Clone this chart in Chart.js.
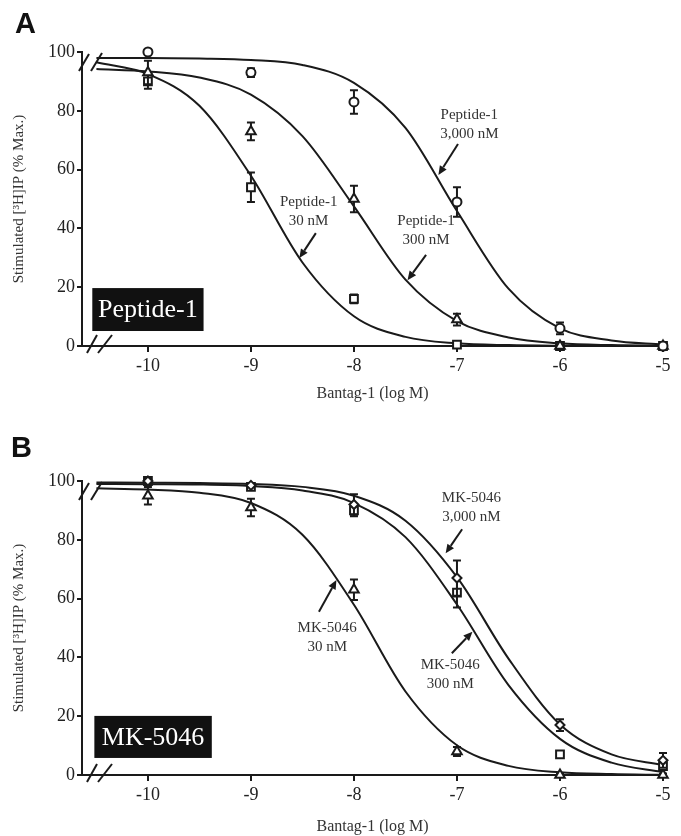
<!DOCTYPE html>
<html><head><meta charset="utf-8">
<script src="https://cdn.jsdelivr.net/npm/chart.js@4.4.1/dist/chart.umd.min.js"></script>
<style>
body{margin:0;background:#fff;width:681px;height:836px;position:relative;overflow:hidden;}
.panel{position:absolute;left:0;width:681px;height:418px;}
.letter{position:absolute;font:bold 29px "Liberation Sans",Arial,sans-serif;line-height:29px;color:#111;}
</style></head><body>
<div class="panel" style="top:0"><canvas id="cA" width="681" height="418"></canvas></div>
<div class="panel" style="top:418px"><canvas id="cB" width="681" height="418"></canvas></div>
<div class="letter" style="left:15px;top:9px">A</div>
<div class="letter" style="left:11px;top:433px">B</div>
<script>
// ---- data ----
const xTicks = [-10, -9, -8, -7, -6, -5];
const doseX = [-10, -9, -8, -7, -6, -5];
const curveX = [-10.5, -10, -9.5, -9, -8.5, -8, -7.5, -7, -6.5, -6, -5.5, -5];

// Panel A (Peptide-1)
const aCircle3000 = [100, 93, 83, 49, 6, 0];
const aCircle3000Err = [0, 1.5, 4, 5, 2, 0.5];
const aTri300 = [93, 73, 50, 9, 0, 0];
const aTri300Err = [4, 3, 4.5, 2, 0.5, 0.5];
const aSq30 = [90, 54, 16, 0.5, 0, 0];
const aSq30Err = [2.5, 5, 1.5, 0.5, 0.5, 0.5];
const aCurve3000 = [98.0, 98.0, 97.8, 97.3, 95.6, 89.5, 74.2, 45.9, 19.5, 6.0, 1.9, 0.5];
const aCurve300 = [94.2, 93.4, 91.3, 85.5, 71.4, 47.5, 22.6, 8.5, 2.9, 0.9, 0.3, 0.1];
const aCurve30 = [96.5, 92.5, 81.7, 57.9, 28.4, 10.1, 3.1, 0.9, 0.3, 0.1, 0.05, 0];

// Panel B (MK-5046)
const bDia3000 = [100, 98.5, 92, 67, 17, 5];
const bDia3000Err = [0, 0.5, 3.5, 6, 2, 2.5];
const bSq300 = [100, 98, 90, 62, 7, 3];
const bSq300Err = [0, 1, 2, 5, 0, 1];
const bTri30 = [95, 91, 63, 8, 0, 0];
const bTri30Err = [3, 3, 3.5, 1.5, 0.5, 0.5];
const bCurve3000 = [99.5, 99.4, 99.3, 99.0, 98.0, 95.0, 86.5, 67.3, 39.6, 17.2, 7.0, 3.4];
const bCurve300 = [99.0, 98.9, 98.8, 98.3, 96.8, 92.5, 80.9, 58.0, 30.6, 12.3, 4.2, 1.0];
const bCurve30 = [97.5, 97.1, 96.0, 92.5, 81.7, 57.9, 28.4, 10.1, 3.1, 0.9, 0.3, 0.05];

const SERIF = '"Liberation Serif", "Times New Roman", serif';
const INK = '#1a1a1a';

const pts = (xs, ys) => xs.map((x, i) => ({x, y: ys[i]}));

function curveDs(ys) {
  return {data: pts(curveX, ys), showLine: true, borderColor: INK, borderWidth: 2,
    pointRadius: 0, cubicInterpolationMode: 'monotone', order: 2, clip: false};
}
function markerDs(ys, errs, style, r) {
  return {data: pts(doseX, ys), errors: errs, showLine: false, pointStyle: style,
    pointRadius: r, pointBorderWidth: 2, pointBorderColor: INK, pointBackgroundColor: '#fff',
    borderColor: INK, backgroundColor: '#fff', order: 0, clip: false};
}

const errorBars = {
  id: 'errorBars',
  beforeDatasetDraw(chart, args) {
    const ds = chart.data.datasets[args.index];
    if (!ds.errors) return;
    const {ctx, scales: {x, y}} = chart;
    ctx.save();
    ctx.strokeStyle = INK; ctx.lineWidth = 2;
    ds.data.forEach((p, i) => {
      const e = ds.errors[i];
      if (!e) return;
      const px = x.getPixelForValue(p.x);
      const y1 = y.getPixelForValue(p.y + e), y2 = y.getPixelForValue(p.y - e);
      ctx.beginPath();
      ctx.moveTo(px, y1); ctx.lineTo(px, y2);
      ctx.moveTo(px - 4, y1); ctx.lineTo(px + 4, y1);
      ctx.moveTo(px - 4, y2); ctx.lineTo(px + 4, y2);
      ctx.stroke();
    });
    ctx.restore();
  }
};

const breaks = {
  id: 'breaks',
  afterDraw(chart) {
    const {ctx, chartArea: {left, top, bottom}} = chart;
    ctx.save();
    ctx.strokeStyle = INK; ctx.lineWidth = 2;
    const segs = [
      [left - 3, top + 19, left + 7, top + 2], [left + 9, top + 19, left + 20, top + 1],
      [left + 5, bottom + 7, left + 15, bottom - 11], [left + 16, bottom + 7, left + 30, bottom - 11]
    ];
    segs.forEach(s => { ctx.beginPath(); ctx.moveTo(s[0], s[1]); ctx.lineTo(s[2], s[3]); ctx.stroke(); });
    ctx.restore();
  }
};

function makeNotes(n) {
  return {
    id: 'notes',
    afterDraw(chart) {
      const {ctx, scales: {x, y}} = chart;
      ctx.save();
      ctx.font = '15px ' + SERIF; ctx.fillStyle = '#333';
      ctx.textAlign = 'center'; ctx.textBaseline = 'middle';
      n.texts.forEach(t => t.lines.forEach((ln, i) =>
        ctx.fillText(ln, x.getPixelForValue(t.x), y.getPixelForValue(t.y) + i * 19)));
      ctx.strokeStyle = INK; ctx.fillStyle = INK; ctx.lineWidth = 2;
      n.arrows.forEach(a => {
        const x1 = x.getPixelForValue(a.from[0]), y1 = y.getPixelForValue(a.from[1]);
        const x2 = x.getPixelForValue(a.to[0]), y2 = y.getPixelForValue(a.to[1]);
        const ang = Math.atan2(y2 - y1, x2 - x1);
        const hl = 9, hw = 4;
        const bx = x2 - hl * Math.cos(ang), by = y2 - hl * Math.sin(ang);
        ctx.beginPath(); ctx.moveTo(x1, y1); ctx.lineTo(bx, by); ctx.stroke();
        ctx.beginPath(); ctx.moveTo(x2, y2);
        ctx.lineTo(bx + hw * Math.sin(ang), by - hw * Math.cos(ang));
        ctx.lineTo(bx - hw * Math.sin(ang), by + hw * Math.cos(ang));
        ctx.closePath(); ctx.fill();
      });
      const b = n.box;
      const bx1 = x.getPixelForValue(b.x1), bx2 = x.getPixelForValue(b.x2);
      const by1 = y.getPixelForValue(b.y1), by2 = y.getPixelForValue(b.y2);
      ctx.fillStyle = '#111';
      ctx.fillRect(bx1, by1, bx2 - bx1, by2 - by1);
      ctx.fillStyle = '#fff'; ctx.font = '26px ' + SERIF;
      ctx.fillText(b.text, (bx1 + bx2) / 2, (by1 + by2) / 2 + 1);
      ctx.restore();
    }
  };
}

function build(id, datasets, cfg) {
  return new Chart(document.getElementById(id), {
    type: 'scatter',
    data: {datasets},
    options: {
      responsive: false, animation: false, events: [],
      layout: {padding: {top: cfg.padTop, right: 18, bottom: 0, left: 0}},
      plugins: {legend: {display: false}, tooltip: {enabled: false}},
      scales: {
        x: {
          type: 'linear', min: -10.64, max: -5,
          afterFit(s) { s.height = cfg.xH; },
          afterBuildTicks(s) { s.ticks = xTicks.map(v => ({value: v})); },
          ticks: {callback: v => String(v), font: {family: SERIF, size: 18}, color: '#222',
            padding: 3, autoSkip: false, maxRotation: 0},
          grid: {display: true, drawOnChartArea: false, drawTicks: true, tickLength: 6, color: INK, lineWidth: 2},
          border: {display: true, color: INK, width: 2},
          title: {display: true, text: 'Bantag-1 (log M)', font: {family: SERIF, size: 16}, color: '#333',
            padding: {top: 0, bottom: cfg.xTitlePad}}
        },
        y: {
          min: 0, max: 100,
          afterFit(s) { s.width = 82; },
          ticks: {stepSize: 20, font: {family: SERIF, size: 18}, color: '#222', padding: 2},
          grid: {display: true, drawOnChartArea: false, drawTicks: true, tickLength: 5, color: INK, lineWidth: 2},
          border: {display: true, color: INK, width: 2},
          title: {display: true, text: 'Stimulated [³H]IP (% Max.)', font: {family: SERIF, size: 15}, color: '#333',
            padding: {top: 10, bottom: 0}}
        }
      }
    },
    plugins: [errorBars, breaks, makeNotes(cfg.notes)]
  });
}

build('cA', [
  curveDs(aCurve3000), curveDs(aCurve300), curveDs(aCurve30),
  markerDs(aCircle3000, aCircle3000Err, 'circle', 4.5),
  markerDs(aTri300, aTri300Err, 'triangle', 5.5),
  markerDs(aSq30, aSq30Err, 'rect', 5.5)
], {
  padTop: 52, xH: 72, xTitlePad: 15,
  notes: {
    texts: [
      {x: -6.88, y: 78.6, lines: ['Peptide-1', '3,000 nM']},
      {x: -7.30, y: 42.5, lines: ['Peptide-1', '300 nM']},
      {x: -8.44, y: 49, lines: ['Peptide-1', '30 nM']}
    ],
    arrows: [
      {from: [-6.99, 68.7], to: [-7.18, 58.2]},
      {from: [-7.30, 31], to: [-7.48, 22.4]},
      {from: [-8.37, 38.4], to: [-8.53, 29.9]}
    ],
    box: {x1: -10.54, x2: -9.46, y1: 19.7, y2: 5.1, text: 'Peptide-1'}
  }
});

build('cB', [
  curveDs(bCurve3000), curveDs(bCurve300), curveDs(bCurve30),
  markerDs(bDia3000, bDia3000Err, 'rectRot', 4.5),
  markerDs(bSq300, bSq300Err, 'rect', 5.5),
  markerDs(bTri30, bTri30Err, 'triangle', 5.5)
], {
  padTop: 63, xH: 61, xTitlePad: 0,
  notes: {
    texts: [
      {x: -6.86, y: 94.2, lines: ['MK-5046', '3,000 nM']},
      {x: -7.065, y: 37.4, lines: ['MK-5046', '300 nM']},
      {x: -8.26, y: 50, lines: ['MK-5046', '30 nM']}
    ],
    arrows: [
      {from: [-6.95, 83.6], to: [-7.11, 75.4]},
      {from: [-7.05, 41.4], to: [-6.85, 48.7]},
      {from: [-8.34, 55.5], to: [-8.17, 66.3]}
    ],
    box: {x1: -10.52, x2: -9.38, y1: 20.1, y2: 5.8, text: 'MK-5046'}
  }
});
</script>
</body></html>
